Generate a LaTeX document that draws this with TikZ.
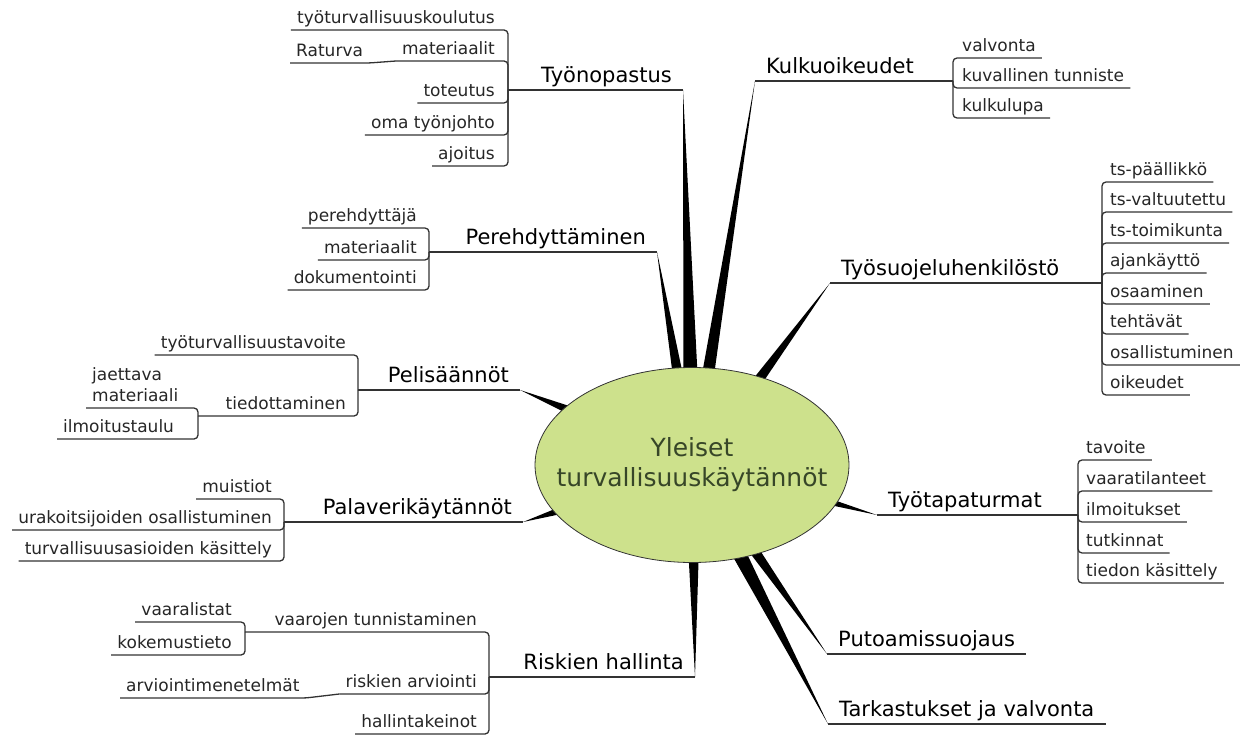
\documentclass[tikz,border=0pt]{standalone}
\usepackage{fontspec}
\setmainfont{DejaVu Sans}
\usetikzlibrary{shapes.geometric,calc,backgrounds}
\definecolor{hubfill}{RGB}{205,225,140}
\definecolor{hubtext}{RGB}{55,70,40}
\definecolor{twiggray}{RGB}{50,50,50}
\tikzset{
  hub/.style={ellipse, draw=black!80, line width=0.8pt, fill=hubfill, text=hubtext,
    minimum width=314pt, minimum height=195pt, inner xsep=-30pt, inner ysep=0pt,
    align=center, font=\fontsize{25}{30}\selectfont},
  topic/.style={inner xsep=11pt, inner ysep=2.5pt, text height=16pt, text depth=5pt,
    font=\fontsize{21}{25}\selectfont},
  leaf/.style={inner xsep=6pt, inner ysep=2.5pt, text height=13pt, text depth=4pt,
    text=black!85, font=\fontsize{17}{21}\selectfont},
  twig/.style={draw=twiggray, line width=1.3pt, rounded corners=4pt},
}
\newcommand{\spoke}[3]{%
  \fill let \p1=($(#2)-(#1)$), \n1={int(atan2(\y1,\x1))},
    \p2=($(#1.\n1)!-6pt!(#2)$) in
    ($(\p2)!#3!90:(#2)$) -- (#2) -- ($(\p2)!#3!-90:(#2)$) -- cycle;}
\begin{document}
\begin{tikzpicture}[x=1pt,y=-1pt]
\useasboundingbox (0,0) rectangle (1247,738);
\node[hub] (hub) at (692,465) {Yleiset\\turvallisuuskäytännöt};

\node[topic,anchor=south east] (tyo) at (683,90) {Työnopastus};
\coordinate (tyo-j) at (508,90);
\node[leaf,anchor=south east] (tyo1) at (501,30) {työturvallisuuskoulutus};
\node[leaf,anchor=south east] (tyo2) at (501,61) {materiaalit};
\node[leaf,anchor=south west] (tyo2a) at (290,63) {Raturva};
\node[leaf,anchor=south east] (tyo3) at (501,103) {toteutus};
\node[leaf,anchor=south east] (tyo4) at (501,135) {oma työnjohto};
\node[leaf,anchor=south east] (tyo5) at (501,166) {ajoitus};
\path[twig] (tyo-j) -- (tyo.south east);
\path[twig] (tyo1.south west) -| (tyo-j);
\path[twig] (tyo2.south west) -| (tyo-j);
\path[twig] (tyo3.south west) -| (tyo-j);
\path[twig] (tyo4.south west) -| (tyo-j);
\path[twig] (tyo5.south west) -| (tyo-j);
\path[twig] (tyo2a.south west) -- (tyo2a.south east) -- (tyo2.south west);

\node[topic,anchor=south west] (kul) at (755,81) {Kulkuoikeudet};
\coordinate (kul-j) at (953,81);
\node[leaf,anchor=south west] (kul1) at (956,58) {valvonta};
\node[leaf,anchor=south west] (kul2) at (956,88) {kuvallinen tunniste};
\node[leaf,anchor=south west] (kul3) at (956,118) {kulkulupa};
\path[twig] (kul.south west) -- (kul-j);
\path[twig] (kul1.south east) -| (kul-j);
\path[twig] (kul2.south east) -| (kul-j);
\path[twig] (kul3.south east) -| (kul-j);

\node[topic,anchor=south west] (tsh) at (830,283) {Työsuojeluhenkilöstö};
\coordinate (tsh-j) at (1102,283);
\node[leaf,anchor=south west] (tsh1) at (1104,182) {ts-päällikkö};
\node[leaf,anchor=south west] (tsh2) at (1104,212) {ts-valtuutettu};
\node[leaf,anchor=south west] (tsh3) at (1104,243) {ts-toimikunta};
\node[leaf,anchor=south west] (tsh4) at (1104,273) {ajankäyttö};
\node[leaf,anchor=south west] (tsh5) at (1104,304) {osaaminen};
\node[leaf,anchor=south west] (tsh6) at (1104,334) {tehtävät};
\node[leaf,anchor=south west] (tsh7) at (1104,365) {osallistuminen};
\node[leaf,anchor=south west] (tsh8) at (1104,395) {oikeudet};
\path[twig] (tsh.south west) -- (tsh-j);
\path[twig] (tsh1.south east) -| (tsh-j);
\path[twig] (tsh2.south east) -| (tsh-j);
\path[twig] (tsh3.south east) -| (tsh-j);
\path[twig] (tsh4.south east) -| (tsh-j);
\path[twig] (tsh5.south east) -| (tsh-j);
\path[twig] (tsh6.south east) -| (tsh-j);
\path[twig] (tsh7.south east) -| (tsh-j);
\path[twig] (tsh8.south east) -| (tsh-j);

\node[topic,anchor=south east] (per) at (657,252) {Perehdyttäminen};
\coordinate (per-j) at (429,252);
\node[leaf,anchor=south east] (per1) at (423,228) {perehdyttäjä};
\node[leaf,anchor=south east] (per2) at (423,260) {materiaalit};
\node[leaf,anchor=south east] (per3) at (423,290) {dokumentointi};
\path[twig] (per-j) -- (per.south east);
\path[twig] (per1.south west) -| (per-j);
\path[twig] (per2.south west) -| (per-j);
\path[twig] (per3.south west) -| (per-j);

\node[topic,anchor=south east] (pel) at (520,390) {Pelisäännöt};
\coordinate (pel-j) at (358,390);
\node[leaf,anchor=south east] (pel1) at (352,355) {työturvallisuustavoite};
\node[leaf,anchor=south east] (pel2) at (352,416) {tiedottaminen};
\coordinate (pel2-j) at (198,416);
\node[leaf,anchor=south west,align=left,text height={}] (pel2a) at (86,408) {jaettava\\materiaali};
\node[leaf,anchor=south west] (pel2b) at (57,439) {ilmoitustaulu};
\path[twig] (pel-j) -- (pel.south east);
\path[twig] (pel1.south west) -| (pel-j);
\path[twig] (pel2-j) -- (pel2.south west) -| (pel-j);
\path[twig] (pel2a.south west) -| (pel2-j);
\path[twig] (pel2b.south west) -| (pel2-j);

\node[topic,anchor=south east] (pal) at (523,522) {Palaverikäytännöt};
\coordinate (pal-j) at (284,522);
\node[leaf,anchor=south east] (pal1) at (278,499) {muistiot};
\node[leaf,anchor=south east] (pal2) at (278,530) {urakoitsijoiden osallistuminen};
\node[leaf,anchor=south east] (pal3) at (278,561) {turvallisuusasioiden käsittely};
\path[twig] (pal-j) -- (pal.south east);
\path[twig] (pal1.south west) -| (pal-j);
\path[twig] (pal2.south west) -| (pal-j);
\path[twig] (pal3.south west) -| (pal-j);

\node[topic,anchor=south east] (ris) at (695,677) {Riskien hallinta};
\coordinate (ris-j) at (489,677);
\node[leaf,anchor=south east] (ris1) at (483,632) {vaarojen tunnistaminen};
\node[leaf,anchor=south east] (ris2) at (483,694) {riskien arviointi};
\node[leaf,anchor=south east] (ris3) at (483,734) {hallintakeinot};
\coordinate (ris1-j) at (245,632);
\node[leaf,anchor=south east] (ris1a) at (238,622) {vaaralistat};
\node[leaf,anchor=south east] (ris1b) at (238,655) {kokemustieto};
\node[leaf,anchor=south west] (ris2a) at (120,698) {arviointimenetelmät};
\path[twig] (ris-j) -- (ris.south east);
\path[twig] (ris1-j) -- (ris1.south west) -| (ris-j);
\path[twig] (ris2.south west) -| (ris-j);
\path[twig] (ris3.south west) -| (ris-j);
\path[twig] (ris1a.south west) -| (ris1-j);
\path[twig] (ris1b.south west) -| (ris1-j);
\path[twig] (ris2a.south west) -- (ris2a.south east) -- (ris2.south west);

\node[topic,anchor=south west] (tta) at (877,515) {Työtapaturmat};
\coordinate (tta-j) at (1078,515);
\node[leaf,anchor=south west] (tta1) at (1080,460) {tavoite};
\node[leaf,anchor=south west] (tta2) at (1080,491) {vaaratilanteet};
\node[leaf,anchor=south west] (tta3) at (1080,522) {ilmoitukset};
\node[leaf,anchor=south west] (tta4) at (1080,553) {tutkinnat};
\node[leaf,anchor=south west] (tta5) at (1080,583) {tiedon käsittely};
\path[twig] (tta.south west) -- (tta-j);
\path[twig] (tta1.south east) -| (tta-j);
\path[twig] (tta2.south east) -| (tta-j);
\path[twig] (tta3.south east) -| (tta-j);
\path[twig] (tta4.south east) -| (tta-j);
\path[twig] (tta5.south east) -| (tta-j);

\node[topic,anchor=south west] (put) at (827,654) {Putoamissuojaus};
\path[twig] (put.south west) -- (put.south east);
\node[topic,anchor=south west] (tar) at (828,724) {Tarkastukset ja valvonta};
\path[twig] (tar.south west) -- (tar.south east);

\begin{scope}[on background layer]
\spoke{hub}{tyo.south east}{7pt}
\spoke{hub}{kul.south west}{6pt}
\spoke{hub}{tsh.south west}{5pt}
\spoke{hub}{per.south east}{5pt}
\spoke{hub}{pel.south east}{4pt}
\spoke{hub}{pal.south east}{3.5pt}
\spoke{hub}{ris.south east}{5pt}
\spoke{hub}{tta.south west}{3pt}
\spoke{hub}{put.south west}{5pt}
\spoke{hub}{tar.south west}{7pt}
\end{scope}
\end{tikzpicture}
\end{document}
